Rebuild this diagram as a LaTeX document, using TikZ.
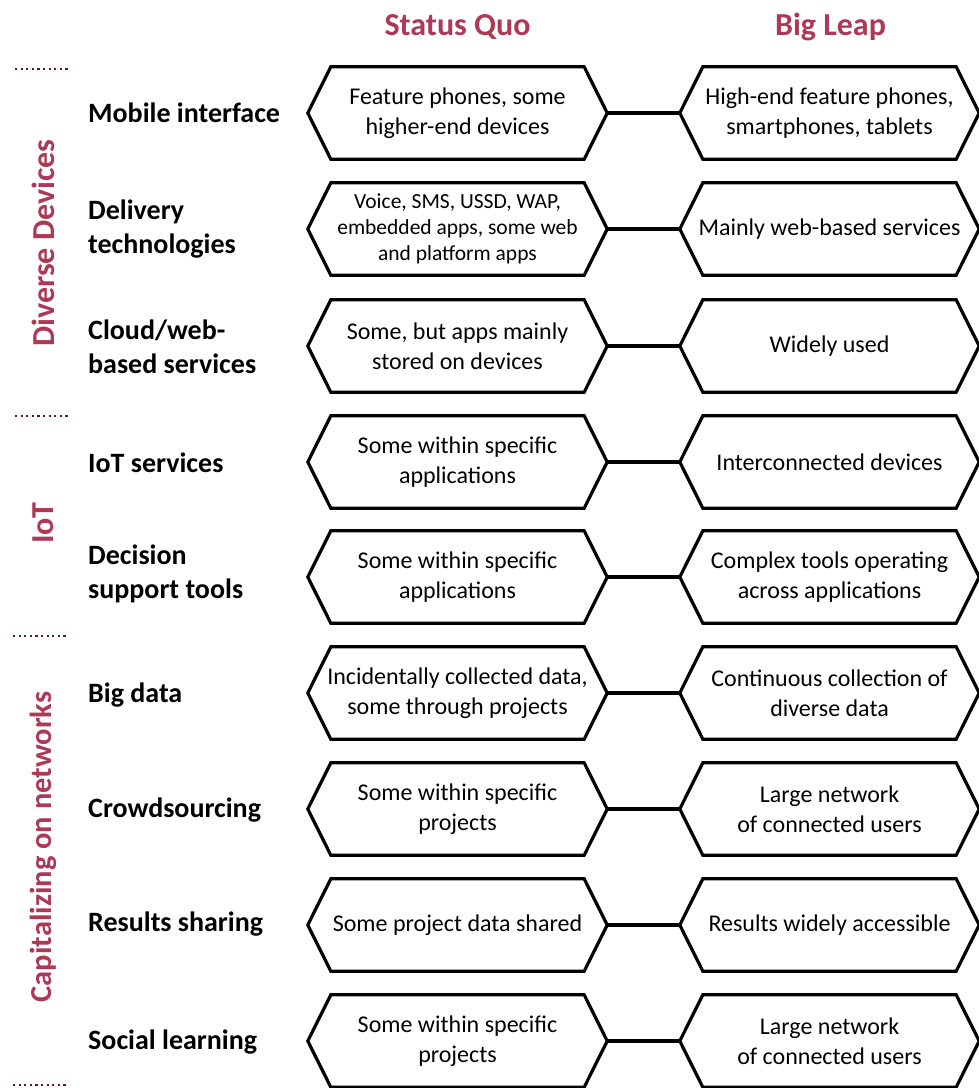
\documentclass[tikz,border=0pt]{standalone}
\usepackage{fontspec}
\setmainfont{Carlito}
\usepackage{xcolor}
\definecolor{headred}{RGB}{172,58,86}
\definecolor{sepred}{RGB}{96,22,40}

\begin{document}
\begin{tikzpicture}[x=1pt, y=-1pt,
    hexbox/.style={minimum width=299pt, minimum height=92pt, inner sep=0pt, align=center,
      font=\fontsize{24}{30}\selectfont},
    hexline/.style={line width=3.2pt, line join=miter},
    joinline/.style={line width=4pt},
    rowname/.style={anchor=west, align=left, inner sep=0pt, font=\bfseries\fontsize{28}{34}\selectfont},
    colhead/.style={font=\bfseries\fontsize{32}{38}\selectfont, text=headred},
    grouptitle/.style={rotate=90, inner sep=0pt, font=\bfseries\fontsize{32}{38}\selectfont, text=headred},
    groupsep/.style={draw=sepred, line width=2.2pt, dash pattern=on 2.2pt off 3.4pt}]
  \useasboundingbox (0,0) rectangle (979,1088);
  \tikzstyle{small} = [font=\fontsize{21.5}{26}\selectfont]

  % column heads
  \node[colhead] (quoHead) at (457.5,27) {Status Quo};
  \node[colhead] (leapHead) at (830.5,27) {Big Leap};

  % groups on the left
  \node[grouptitle] (devices) at (43,243) {Diverse Devices};
  \node[grouptitle] (iot) at (43,523) {IoT};
  \node[grouptitle, font=\bfseries\fontsize{30.5}{36}\selectfont] (networks) at (43,847) {Capitalizing on networks};
  \draw[groupsep] (15,69) -- (70,69);
  \draw[groupsep] (15,416) -- (70,416);
  \draw[groupsep] (13,636) -- (68,636);
  \draw[groupsep] (13,1085) -- (68,1085);

  % rows
  \node[rowname] (nameMobile) at (88,113) {Mobile interface};
  \node[hexbox] (quoMobile) at (457.5,113) {Feature phones, some\\higher-end devices};
  \node[hexbox] (leapMobile) at (829.5,113) {High-end feature phones,\\smartphones, tablets};

  \node[rowname] (nameDelivery) at (88,229) {Delivery\\technologies};
  \node[hexbox, small] (quoDelivery) at (457.5,229) {Voice, SMS, USSD, WAP,\\embedded apps, some web\\and platform apps};
  \node[hexbox] (leapDelivery) at (829.5,229) {Mainly web-based services};

  \node[rowname] (nameCloud) at (88,347) {Cloud/web-\\based services};
  \node[hexbox] (quoCloud) at (457.5,346) {Some, but apps mainly\\stored on devices};
  \node[hexbox] (leapCloud) at (829.5,346) {Widely used};

  \node[rowname] (nameIoT) at (88,463) {IoT services};
  \node[hexbox] (quoIoT) at (457.5,462) {Some within specific\\applications};
  \node[hexbox] (leapIoT) at (829.5,462) {Interconnected devices};

  \node[rowname] (nameDecision) at (88,574) {Decision\\support tools};
  \node[hexbox] (quoDecision) at (457.5,577) {Some within specific\\applications};
  \node[hexbox] (leapDecision) at (829.5,577) {Complex tools operating\\across applications};

  \node[rowname] (nameBigData) at (88,695) {Big data};
  \node[hexbox] (quoBigData) at (457.5,693) {Incidentally collected data,\\some through projects};
  \node[hexbox] (leapBigData) at (829.5,693) {Continuous collection of\\diverse data};

  \node[rowname] (nameCrowd) at (88,810) {Crowdsourcing};
  \node[hexbox] (quoCrowd) at (457.5,809) {Some within specific\\projects};
  \node[hexbox] (leapCrowd) at (829.5,809) {Large network\\of connected users};

  \node[rowname] (nameResults) at (88,924) {Results sharing};
  \node[hexbox] (quoResults) at (457.5,925) {Some project data shared};
  \node[hexbox] (leapResults) at (829.5,925) {Results widely accessible};

  \node[rowname] (nameSocial) at (88,1042) {Social learning};
  \node[hexbox] (quoSocial) at (457.5,1041) {Some within specific\\projects};
  \node[hexbox] (leapSocial) at (829.5,1041) {Large network\\of connected users};

  % hexagon outlines and links
  \foreach \r in {Mobile,Delivery,Cloud,IoT,Decision,BigData,Crowd,Results,Social} {
    \foreach \c in {quo,leap} {
      \draw[hexline] (\c\r.west) -- ([xshift=23pt]\c\r.north west) -- ([xshift=-23pt]\c\r.north east)
        -- (\c\r.east) -- ([xshift=-23pt]\c\r.south east) -- ([xshift=23pt]\c\r.south west) -- cycle;
    }
    \draw[joinline] (quo\r.east) -- (leap\r.west);
  }
\end{tikzpicture}
\end{document}
